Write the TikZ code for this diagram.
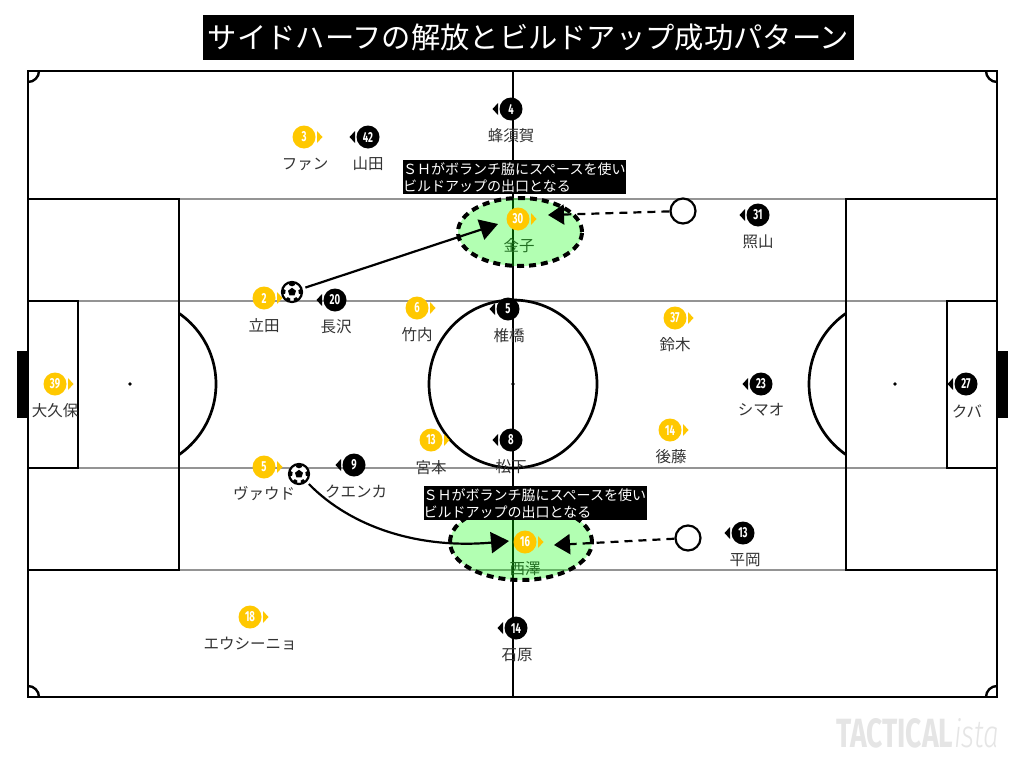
\documentclass[tikz,border=0pt]{standalone}
\usepackage{fontspec}
\usepackage{graphicx}
\usetikzlibrary{arrows.meta,shapes.geometric}
\setmainfont{Noto Sans CJK JP}
\newfontfamily\numfont[FakeStretch=0.66]{Fira Sans Bold}
\newfontfamily\wmfont{Fira Sans Bold}
\newfontfamily\wmlight{Fira Sans Light Italic}
\definecolor{ply}{HTML}{FFC800}
\definecolor{txtc}{HTML}{333333}
\tikzset{
  pitchline/.style={draw=black,line width=2.7pt},
  greyline/.style={draw=black!42,line width=2.7pt},
  yplayer/.style={circle,fill=ply,text=white,minimum size=23pt,inner sep=0pt,font=\numfont\fontsize{14.5}{14.5}\selectfont},
  bplayer/.style={circle,fill=black,text=white,minimum size=23pt,inner sep=0pt,font=\numfont\fontsize{14.5}{14.5}\selectfont},
  namelabel/.style={text=txtc,inner sep=0pt,font=\fontsize{15.5}{15.5}\selectfont},
  callout/.style={fill=black,text=white,inner sep=0pt,anchor=north west,align=left,minimum width=223pt,minimum height=34pt,text width=223pt,font=\fontsize{14}{17}\selectfont},
  zone/.style={ellipse,inner sep=0pt,fill=green,fill opacity=.3,draw opacity=1,draw=black,line width=4pt,dash pattern=on 7pt off 5pt},
  openmark/.style={circle,draw=black,fill=white,line width=2.2pt,minimum size=25pt,inner sep=0pt},
  ballmark/.style={circle,draw=black,fill=white,line width=2.2pt,minimum size=20pt,inner sep=0pt},
  passline/.style={draw=black,line width=2.2pt,-{Triangle[length=18pt,width=21pt]}},
  moveline/.style={draw=black,line width=2.2pt,dash pattern=on 8pt off 6pt,-{Triangle[length=16pt,width=20pt]}},
}
\newcommand{\soccerball}[1]{%
  \fill[black] (#1) ++(0,-4.2) -- ++(4,3) -- ++(-1.5,4.6) -- ++(-5,0) -- ++(-1.5,-4.6) -- cycle;
  \fill[black] (#1) ++(-2.4,-9.6) -- ++(4.8,0) -- ++(.8,2.6) -- ++(-3.2,1.3) -- ++(-3.2,-1.3) -- cycle;
  \fill[black] (#1) ++(9.6,-3.6) -- ++(.2,6.4) -- ++(-3,-1.2) -- ++(-.4,-3.4) -- cycle;
  \fill[black] (#1) ++(-9.6,-3.6) -- ++(-.2,6.4) -- ++(3,-1.2) -- ++(.4,-3.4) -- cycle;
  \fill[black] (#1) ++(6.6,7.4) -- ++(-4.2,2.6) -- ++(-.8,-3.4) -- ++(2.6,-1.4) -- cycle;
  \fill[black] (#1) ++(-6.6,7.4) -- ++(4.2,2.6) -- ++(.8,-3.4) -- ++(-2.6,-1.4) -- cycle;
}
\begin{document}
\begin{tikzpicture}[x=1pt,y=-1pt]
\useasboundingbox (0,0) rectangle (1024,768);
\fill[white] (0,0) rectangle (1024,768);
% title
\node[fill=black,text=white,inner sep=0pt,minimum width=651pt,minimum height=45pt,font=\fontsize{29.3}{29.3}\selectfont] (title) at (528.5,37.5) {サイドハーフの解放とビルドアップ成功パターン};
% goals
\fill[black] (17,351) rectangle (28,418);
\fill[black] (997,351) rectangle (1008,418);
% grey lines
\draw[greyline] (179,199) -- (846,199);
\draw[greyline] (179,570) -- (846,570);
\draw[greyline] (78,301) -- (947,301);
\draw[greyline] (78,468) -- (947,468);
% pitch
\draw[pitchline] (28,71) rectangle (997,697);
\draw[pitchline] (513,71) -- (513,697);
\draw[pitchline] (513,384) circle (84);
\draw[pitchline] (28,199) rectangle (179,570);
\draw[pitchline] (846,199) rectangle (997,570);
\draw[pitchline] (28,301) rectangle (78,468);
\draw[pitchline] (947,301) rectangle (997,468);
\begin{scope}
\clip (179,250) rectangle (300,520);
\draw[pitchline] (130,384) circle (86);
\end{scope}
\begin{scope}
\clip (720,250) rectangle (846,520);
\draw[pitchline] (895,384) circle (86);
\end{scope}
\fill[black] (513,384) circle (1.8) (130,384) circle (1.8) (895,384) circle (1.8);
\begin{scope}
\clip (28,71) rectangle (997,697);
\draw[pitchline,line width=2.4pt] (28,71) circle (11) (997,71) circle (11) (28,697) circle (11) (997,697) circle (11);
\end{scope}
% name labels
\foreach \lx/\ly/\lt [count=\i] in {
 305/164/ファン,264/326/立田,417/335/竹内,519/246/金子,675/345/鈴木,55/411/大久保,431/468/宮本,671/457/後藤,264/494/ヴァウド,525/569/西澤,250/644/エウシーニョ,
 511/136/蜂須賀,368/164/山田,758/242/照山,336/327/長沢,509/336/椎橋,761/410/シマオ,967/411/クバ,511/467/松下,356/492/クエンカ,745/560/平岡,517/655/石原}
 {\node[namelabel] (lab\i) at (\lx,\ly) {\lt};}
% zones
\node[zone,minimum width=124pt,minimum height=68pt] (zone1) at (520,232) {};
\node[zone,minimum width=142pt,minimum height=76pt] (zone2) at (521,542) {};
% callouts
\node[callout] (note1) at (403,160) {ＳＨがボランチ脇にスペースを使い\\ビルドアップの出口となる};
\node[callout] (note2) at (423.5,486) {ＳＨがボランチ脇にスペースを使い\\ビルドアップの出口となる};
% players
\foreach \px/\py/\pn [count=\i] in {
 304/137/3,264/298/2,417/308/6,518/219/30,675/318/37,55/384/39,431/440/13,670/430/14,264/467/5,525/542/16,250/617/18}
 {\node[yplayer] (y\i) at (\px,\py) {\pn};
  \fill[ply] (\px+13,\py-6) -- (\px+18.5,\py) -- (\px+13,\py+6) -- cycle;}
\foreach \px/\py/\pn [count=\i] in {
 511/109/4,368/137/42,758/215/31,335/300/20,508/309/5,761/384/23,966/384/27,511/440/8,354/465/9,743/533/13,516/628/14}
 {\node[bplayer] (b\i) at (\px,\py) {\pn};
  \fill[black] (\px-13,\py-6) -- (\px-18.5,\py) -- (\px-13,\py+6) -- cycle;}
% open markers and balls
\node[openmark] (open1) at (683,211) {};
\node[openmark] (open2) at (688,538) {};
\node[ballmark] (ball1) at (292,292) {};
\soccerball{ball1}
\node[ballmark] (ball2) at (299,474) {};
\soccerball{ball2}
% arrows
\coordinate (tip1) at (498,224);
\coordinate (tip2) at (509,541);
\coordinate (tip3) at (548,215);
\coordinate (tip4) at (554,545);
\draw[passline,shorten <=3pt] (ball1) -- (tip1);
\draw[black,line width=2.2pt,-{Triangle[length=18pt,width=21pt]},shorten <=3pt] (ball2) .. controls (352,528) and (420,549) .. (tip2);
\draw[moveline] (open1) -- (tip3);
\draw[moveline] (open2) -- (tip4);
% watermark
\node[inner sep=0pt,anchor=north west,text=black!10] (wm1) at (836,718) {\resizebox{117pt}{29pt}{\wmfont TACTICAL}};
\node[inner sep=0pt,anchor=north west,text=black!10] (wm2) at (954,718) {\resizebox{45pt}{29pt}{\wmlight ista}};
\end{tikzpicture}
\end{document}
